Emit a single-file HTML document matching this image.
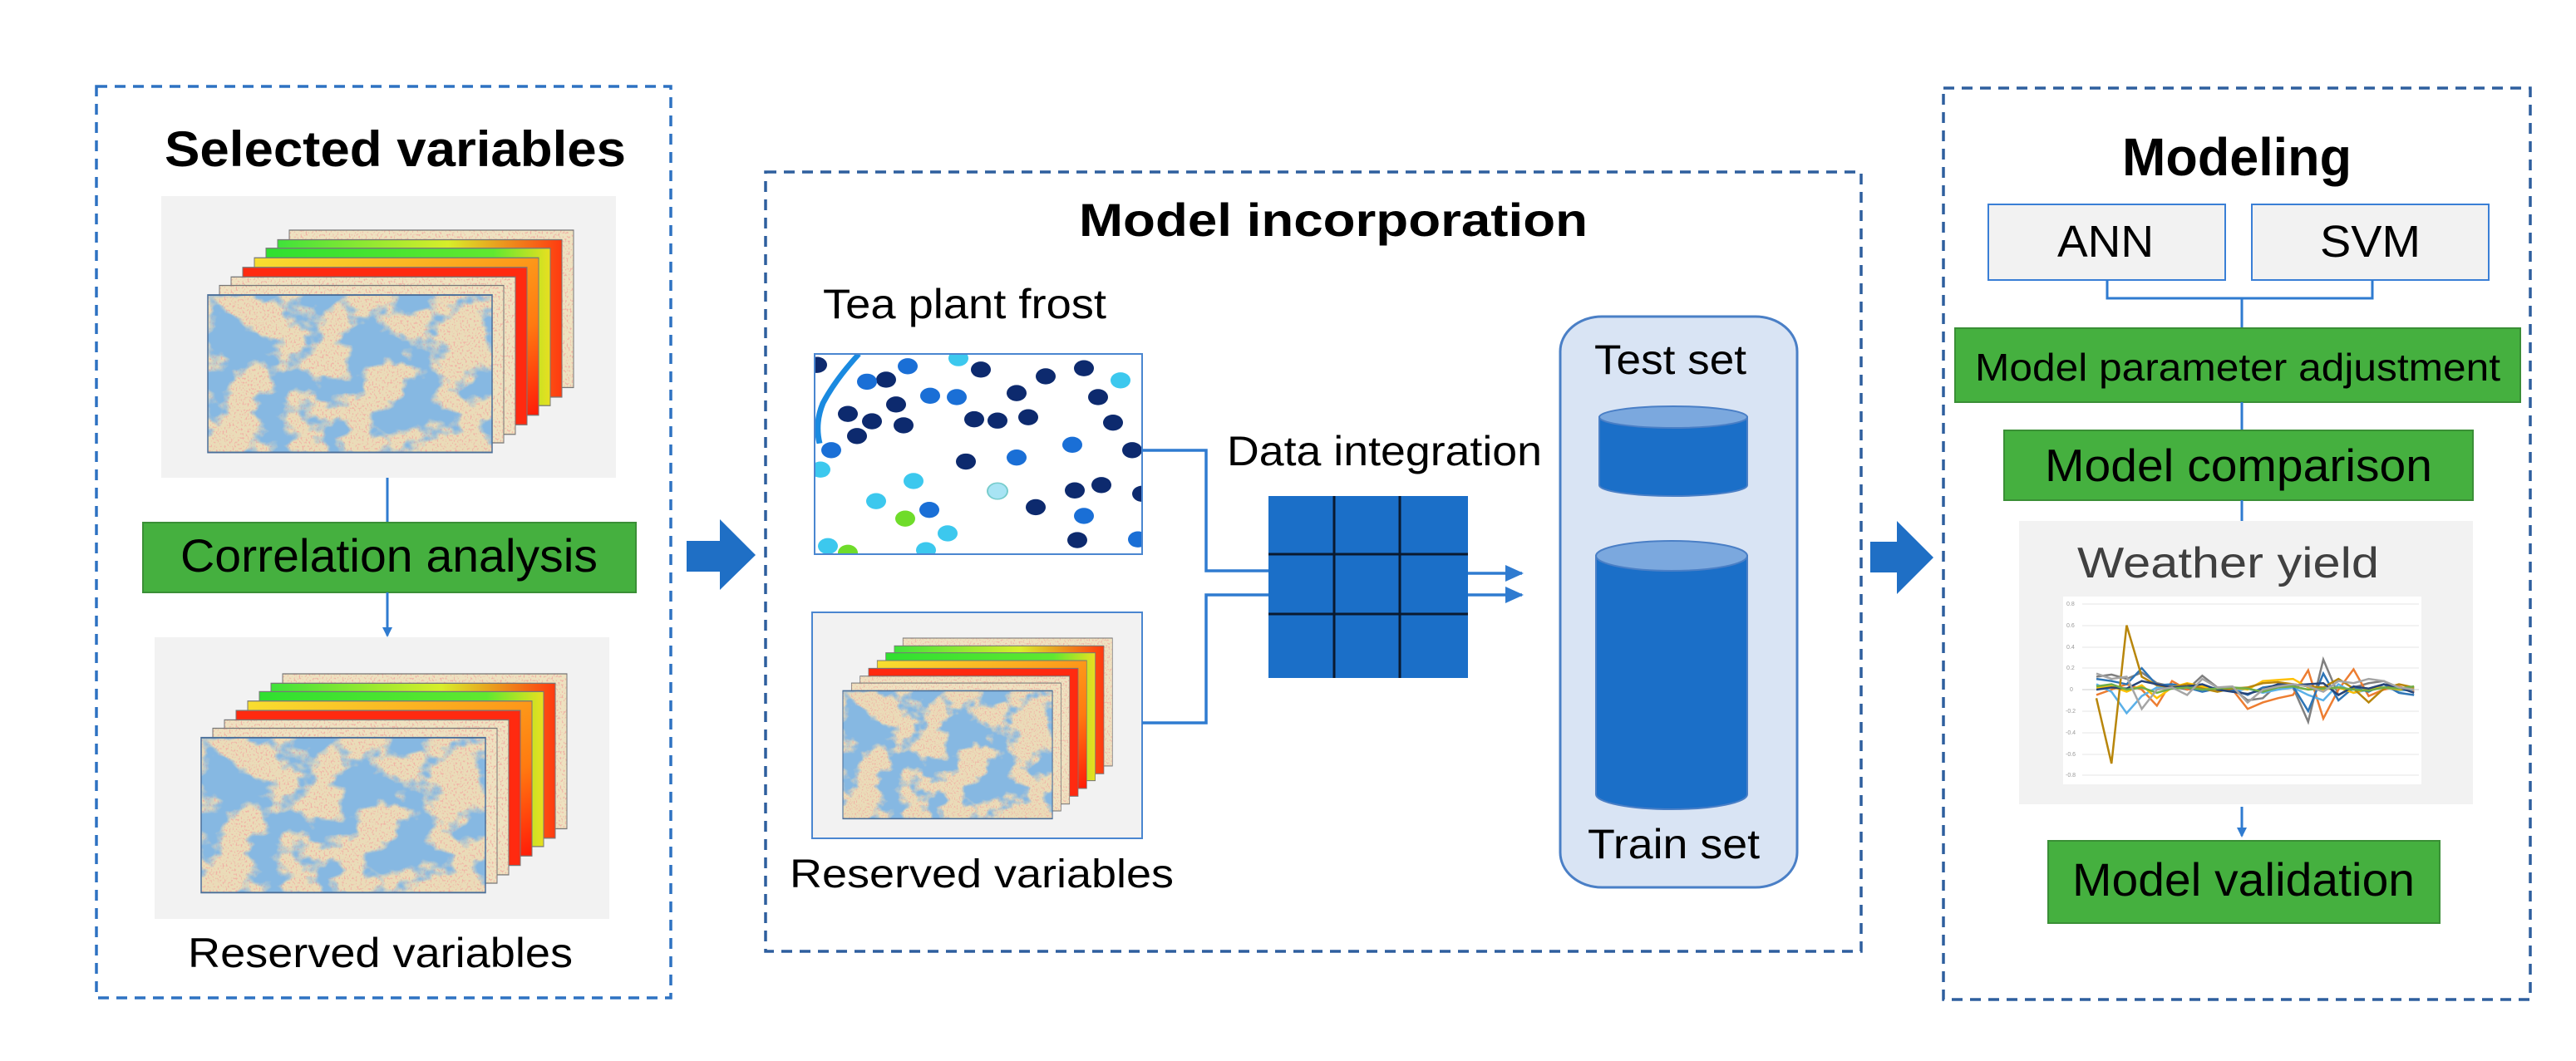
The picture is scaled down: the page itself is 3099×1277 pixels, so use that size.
<!DOCTYPE html>
<html><head><meta charset="utf-8">
<style>
html,body{margin:0;padding:0;background:#fff;overflow:hidden;}
svg{display:block;}
text{font-family:"Liberation Sans",Arial,sans-serif;fill:#000;}
</style></head>
<body>
<svg width="3099" height="1277" viewBox="0 0 3099 1277" xmlns="http://www.w3.org/2000/svg">
<defs>
  <filter id="blobs" x="0" y="0" width="100%" height="100%">
    <feTurbulence type="fractalNoise" baseFrequency="0.018 0.03" numOctaves="4" seed="3"/>
    <feColorMatrix type="matrix" values="0 0 0 0 0.24  0 0 0 0 0.48  0 0 0 0 0.76  9 0 0 0 -4.3"/>
  </filter>
  <filter id="speck" x="0" y="0" width="100%" height="100%">
    <feTurbulence type="fractalNoise" baseFrequency="0.5" numOctaves="1" seed="7"/>
    <feColorMatrix type="matrix" values="0 0 0 0 0.88  0 0 0 0 0.45  0 0 0 0 0.38  6 0 0 0 -3.2"/>
  </filter>
  <linearGradient id="gyr" x1="0" y1="0" x2="1" y2="0">
    <stop offset="0" stop-color="#3fe23a"/><stop offset="0.6" stop-color="#d8ee2a"/><stop offset="1" stop-color="#ff3a10"/>
  </linearGradient>
  <linearGradient id="yr" x1="0" y1="0" x2="1" y2="1">
    <stop offset="0" stop-color="#f8e030"/><stop offset="0.7" stop-color="#ff7a10"/><stop offset="1" stop-color="#ff1a08"/>
  </linearGradient>
  <linearGradient id="gr" x1="0" y1="0" x2="1" y2="0">
    <stop offset="0" stop-color="#30e030"/><stop offset="0.8" stop-color="#60e830"/><stop offset="1" stop-color="#e8e020"/>
  </linearGradient>
  <g id="map">
    <rect x="0" y="0" width="342" height="148" fill="#eadcb8"/>
    <rect x="0" y="0" width="342" height="148" filter="url(#speck)"/>
    <rect x="0" y="0" width="342" height="148" filter="url(#blobs)"/>
    <rect x="0" y="0" width="342" height="148" fill="none" stroke="#4a6f9a" stroke-width="1.5"/>
  </g>
  <g id="beige">
    <rect x="0" y="0" width="342" height="148" fill="#eee2c0"/>
    <rect x="0" y="0" width="342" height="148" filter="url(#speck)"/>
    <rect x="0" y="0" width="342" height="148" fill="none" stroke="#777" stroke-width="1"/>
  </g>
  <g id="stack">
    <use href="#beige" x="98" y="0"/>
    <rect x="84" y="9" width="342" height="148" fill="url(#gyr)" stroke="#777" stroke-width="1"/>
    <rect x="70" y="17" width="342" height="148" fill="url(#gr)" stroke="#777" stroke-width="1"/>
    <rect x="56" y="26" width="342" height="148" fill="url(#yr)" stroke="#777" stroke-width="1"/>
    <rect x="42" y="35" width="342" height="148" fill="#ff2a10" stroke="#777" stroke-width="1"/>
    <use href="#beige" x="28" y="44"/>
    <use href="#beige" x="14" y="52"/>
    <use href="#map" x="0" y="61"/>
  </g>
  <clipPath id="frostclip"><rect x="980" y="426" width="394" height="241"/></clipPath>
  <marker id="ah" markerWidth="12" markerHeight="12" refX="10" refY="6" orient="auto" markerUnits="userSpaceOnUse">
    <path d="M0,0 L12,6 L0,12 z" fill="#2f7bd0"/>
  </marker>
  <marker id="ah2" markerWidth="22" markerHeight="20" refX="20" refY="10" orient="auto" markerUnits="userSpaceOnUse">
    <path d="M0,0 L22,10 L0,20 z" fill="#2f7bd0"/>
  </marker>
</defs>

<rect width="3099" height="1277" fill="#fff"/>

<!-- ============ LEFT PANEL ============ -->
<rect x="116" y="104" width="691" height="1097" fill="none" stroke="#2e72c2" stroke-width="3.5" stroke-dasharray="13 9"/>
<text x="198" y="200" font-size="60" font-weight="bold" textLength="555" lengthAdjust="spacingAndGlyphs">Selected variables</text>

<rect x="194" y="236" width="547" height="339" fill="#f2f2f2"/>
<use href="#stack" transform="translate(250,277) scale(1,1.28)"/>

<line x1="466" y1="575" x2="466" y2="629" stroke="#2f7bd0" stroke-width="3"/>
<rect x="172" y="629" width="593" height="84" fill="#45b03f" stroke="#3a8f36" stroke-width="2"/>
<text x="217" y="688" font-size="56" textLength="502" lengthAdjust="spacingAndGlyphs">Correlation analysis</text>
<line x1="466" y1="713" x2="466" y2="765" stroke="#2f7bd0" stroke-width="3" marker-end="url(#ah)"/>

<rect x="186" y="767" width="547" height="339" fill="#f2f2f2"/>
<use href="#stack" transform="translate(242,811) scale(1,1.26)"/>
<text x="226" y="1164" font-size="50" textLength="463" lengthAdjust="spacingAndGlyphs">Reserved variables</text>

<!-- big arrow 1 -->
<path d="M826,651 L866,651 L866,625 L909,668 L866,710 L866,688 L826,688 z" fill="#1f6fc5"/>

<!-- ============ MIDDLE PANEL ============ -->
<rect x="921" y="207" width="1318" height="938" fill="none" stroke="#2e5f9e" stroke-width="3.5" stroke-dasharray="13 9"/>
<text x="1298" y="284" font-size="56" font-weight="bold" textLength="612" lengthAdjust="spacingAndGlyphs">Model incorporation</text>
<text x="990" y="383" font-size="50" textLength="341" lengthAdjust="spacingAndGlyphs">Tea plant frost</text>

<rect x="980" y="426" width="394" height="241" fill="#fff"/>
<g clip-path="url(#frostclip)">
 <g transform="translate(0,28.83) scale(1,0.8078)">
  <path d="M1033,492 Q1005,530 990,565 Q980,595 986,625" fill="none" stroke="#1a8ae0" stroke-width="7"/>
  <g fill="#0d2a6e">
    <circle cx="983" cy="508" r="12"/><circle cx="1066" cy="530" r="12"/><circle cx="1180" cy="515" r="12"/>
    <circle cx="1258" cy="525" r="12"/><circle cx="1304" cy="513" r="12"/><circle cx="1020" cy="581" r="12"/>
    <circle cx="1049" cy="592" r="12"/><circle cx="1078" cy="567" r="12"/><circle cx="1087" cy="598" r="12"/>
    <circle cx="1172" cy="589" r="12"/><circle cx="1200" cy="591" r="12"/><circle cx="1223" cy="550" r="12"/>
    <circle cx="1237" cy="586" r="12"/><circle cx="1321" cy="556" r="12"/><circle cx="1339" cy="594" r="12"/>
    <circle cx="1031" cy="614" r="12"/><circle cx="1162" cy="652" r="12"/><circle cx="1362" cy="635" r="12"/>
    <circle cx="1293" cy="695" r="12"/><circle cx="1325" cy="687" r="12"/><circle cx="1246" cy="720" r="12"/>
    <circle cx="1296" cy="769" r="12"/><circle cx="1374" cy="700" r="12"/>
  </g>
  <g fill="#1a6fd6">
    <circle cx="1043" cy="533" r="12"/><circle cx="1092" cy="510" r="12"/><circle cx="1119" cy="554" r="12"/>
    <circle cx="1151" cy="556" r="12"/><circle cx="1000" cy="635" r="12"/><circle cx="1290" cy="627" r="12"/>
    <circle cx="1223" cy="646" r="12"/><circle cx="1118" cy="724" r="12"/><circle cx="1304" cy="733" r="12"/>
    <circle cx="1369" cy="768" r="12"/>
  </g>
  <g fill="#3cc8ee">
    <circle cx="1153" cy="498" r="12"/><circle cx="1348" cy="531" r="12"/><circle cx="987" cy="664" r="12"/>
    <circle cx="1099" cy="681" r="12"/><circle cx="1054" cy="711" r="12"/><circle cx="1140" cy="759" r="12"/>
    <circle cx="996" cy="778" r="12"/><circle cx="1114" cy="784" r="12"/>
  </g>
  <circle cx="1200" cy="696" r="12" fill="#a8e4f4" stroke="#7cc" stroke-width="2"/>
  <circle cx="1089" cy="737" r="12" fill="#6fdc2a"/>
  <circle cx="1020" cy="788" r="12" fill="#6fdc2a"/>
 </g>
</g>
<rect x="980" y="426" width="394" height="241" fill="none" stroke="#4a86d0" stroke-width="2"/>

<rect x="977" y="737" width="397" height="272" fill="#f2f2f2" stroke="#4a86d0" stroke-width="2"/>
<use href="#stack" transform="translate(1014,768) scale(0.737,1.04)"/>
<text x="950" y="1068" font-size="48" textLength="462" lengthAdjust="spacingAndGlyphs">Reserved variables</text>

<!-- connectors -->
<polyline points="1374,542 1451,542 1451,687 1526,687" fill="none" stroke="#2f7bd0" stroke-width="3.5"/>
<polyline points="1374,870 1451,870 1451,716 1526,716" fill="none" stroke="#2f7bd0" stroke-width="3.5"/>

<text x="1476" y="560" font-size="50" textLength="379" lengthAdjust="spacingAndGlyphs">Data integration</text>

<!-- grid -->
<rect x="1526" y="597" width="240" height="219" fill="#1b6fc8"/>
<g stroke="#0a1a30" stroke-width="3">
  <line x1="1605" y1="597" x2="1605" y2="816"/><line x1="1684" y1="597" x2="1684" y2="816"/>
  <line x1="1526" y1="667" x2="1766" y2="667"/><line x1="1526" y1="739" x2="1766" y2="739"/>
</g>
<line x1="1766" y1="690" x2="1831" y2="690" stroke="#2f7bd0" stroke-width="3.5" marker-end="url(#ah2)"/>
<line x1="1766" y1="716" x2="1831" y2="716" stroke="#2f7bd0" stroke-width="3.5" marker-end="url(#ah2)"/>

<!-- datasets panel -->
<rect x="1877" y="381" width="285" height="687" rx="50" ry="42" fill="#d9e4f4" stroke="#4a7fc6" stroke-width="3"/>
<text x="1918" y="450" font-size="50" textLength="183" lengthAdjust="spacingAndGlyphs">Test set</text>
<path d="M1924,502 L1924,584 A89,13 0 0 0 2102,584 L2102,502 z" fill="#1b6fc8" stroke="#4a7fc6" stroke-width="2"/>
<ellipse cx="2013" cy="502" rx="89" ry="13" fill="#7ba8de" stroke="#4a7fc6" stroke-width="2"/>
<path d="M1920,669 L1920,956 A91,18 0 0 0 2102,956 L2102,669 z" fill="#1b6fc8" stroke="#4a7fc6" stroke-width="2"/>
<ellipse cx="2011" cy="669" rx="91" ry="18" fill="#7ba8de" stroke="#4a7fc6" stroke-width="2"/>
<text x="1910" y="1033" font-size="50" textLength="207" lengthAdjust="spacingAndGlyphs">Train set</text>

<!-- big arrow 2 -->
<path d="M2250,652 L2282,652 L2282,627 L2326,671 L2282,715 L2282,689 L2250,689 z" fill="#1f6fc5"/>

<!-- ============ RIGHT PANEL ============ -->
<rect x="2338" y="106" width="706" height="1097" fill="none" stroke="#2e5f9e" stroke-width="3.5" stroke-dasharray="13 9"/>
<text x="2553" y="211" font-size="64" font-weight="bold" textLength="276" lengthAdjust="spacingAndGlyphs">Modeling</text>

<rect x="2392" y="246" width="285" height="91" fill="#f2f2f2" stroke="#3a7fd6" stroke-width="2"/>
<text x="2475" y="309" font-size="54" textLength="116" lengthAdjust="spacingAndGlyphs">ANN</text>
<rect x="2709" y="246" width="285" height="91" fill="#f2f2f2" stroke="#3a7fd6" stroke-width="2"/>
<text x="2791" y="309" font-size="54" textLength="121" lengthAdjust="spacingAndGlyphs">SVM</text>
<polyline points="2535,337 2535,359 2854,359 2854,337" fill="none" stroke="#2f7bd0" stroke-width="3"/>
<line x1="2697" y1="359" x2="2697" y2="395" stroke="#2f7bd0" stroke-width="3"/>

<rect x="2352" y="395" width="680" height="89" fill="#45b03f" stroke="#3a8f36" stroke-width="2"/>
<text x="2376" y="458" font-size="46" textLength="632" lengthAdjust="spacingAndGlyphs">Model parameter adjustment</text>
<line x1="2697" y1="484" x2="2697" y2="518" stroke="#2f7bd0" stroke-width="3"/>
<rect x="2411" y="518" width="564" height="84" fill="#45b03f" stroke="#3a8f36" stroke-width="2"/>
<text x="2460" y="579" font-size="55" textLength="466" lengthAdjust="spacingAndGlyphs">Model comparison</text>
<line x1="2697" y1="602" x2="2697" y2="627" stroke="#2f7bd0" stroke-width="3"/>

<rect x="2429" y="627" width="546" height="341" fill="#f2f2f2"/>
<text x="2499" y="695" font-size="52" style="fill:#404040" textLength="363" lengthAdjust="spacingAndGlyphs">Weather  yield</text>
<rect x="2482" y="718" width="431" height="226" fill="#fff"/>
<g stroke="#e6e6e6" stroke-width="1">
  <line x1="2505" y1="727" x2="2910" y2="727"/><line x1="2505" y1="753" x2="2910" y2="753"/>
  <line x1="2505" y1="779" x2="2910" y2="779"/><line x1="2505" y1="804" x2="2910" y2="804"/>
  <line x1="2505" y1="856" x2="2910" y2="856"/><line x1="2505" y1="882" x2="2910" y2="882"/>
  <line x1="2505" y1="908" x2="2910" y2="908"/><line x1="2505" y1="933" x2="2910" y2="933"/>
</g>
<line x1="2505" y1="830" x2="2910" y2="830" stroke="#ccc" stroke-width="1"/>
<g font-size="7">
  <text x="2486" y="729" style="fill:#999">0.8</text><text x="2486" y="755" style="fill:#999">0.6</text>
  <text x="2486" y="781" style="fill:#999">0.4</text><text x="2486" y="806" style="fill:#999">0.2</text>
  <text x="2490" y="832" style="fill:#999">0</text><text x="2485" y="858" style="fill:#999">-0.2</text>
  <text x="2485" y="884" style="fill:#999">-0.4</text><text x="2485" y="910" style="fill:#999">-0.6</text>
  <text x="2485" y="935" style="fill:#999">-0.8</text>
</g>
<g transform="translate(2522,830) scale(18.2,-129)" fill="none">
  <polyline vector-effect="non-scaling-stroke" stroke-width="2.5" stroke="#7f7f7f" points="0,0.12 1,0.14 2,0.1 3,0.16 4,0.06 5,0.03 6,0 7,0.13 8,0.02 9,0.01 10,-0.1 11,-0.08 12,0.05 13,0.02 14,-0.3 15,0.28 16,-0.05 17,0.02 18,0.06 19,0.08 20,0 21,0.02"/>
  <polyline vector-effect="non-scaling-stroke" stroke-width="2.5" stroke="#ed7d31" points="0,-0.05 1,0 2,0.05 3,0 4,-0.15 5,0.08 6,0 7,0.02 8,0.01 9,0 10,-0.18 11,-0.12 12,-0.08 13,-0.05 14,0.18 15,-0.27 16,0 17,0.19 18,-0.06 19,0 20,0.03 21,-0.02"/>
  <polyline vector-effect="non-scaling-stroke" stroke-width="2.5" stroke="#5ab0e8" points="0,0.05 1,-0.02 2,-0.22 3,-0.06 4,0.02 5,0.01 6,0.03 7,0 8,0.02 9,-0.02 10,0.01 11,-0.03 12,0 13,0.02 14,-0.05 15,-0.1 16,0.05 17,-0.03 18,0 19,0.02 20,-0.01 21,0"/>
  <polyline vector-effect="non-scaling-stroke" stroke-width="2.5" stroke="#2e75b6" points="0,0.1 1,0.08 2,0.05 3,0.2 4,0.04 5,0.05 6,0.02 7,-0.02 8,0.01 9,0 10,-0.05 11,0.02 12,0.04 13,0.03 14,-0.2 15,0.15 16,-0.1 17,0.02 18,-0.02 19,0.05 20,-0.03 21,-0.05"/>
  <polyline vector-effect="non-scaling-stroke" stroke-width="2.5" stroke="#ffc000" points="0,0.02 1,0.03 2,-0.02 3,0.04 4,-0.08 5,0.02 6,0.06 7,0.03 8,0 9,0.02 10,0 11,0.08 12,0.09 13,0.1 14,0.02 15,0 16,0.02 17,-0.03 18,0.01 19,0.02 20,0 21,0.01"/>
  <polyline vector-effect="non-scaling-stroke" stroke-width="2.5" stroke="#b8860b" points="0,-0.08 1,-0.69 2,0.6 3,0.12 4,0.04 5,0.02 6,0.05 7,0.01 8,-0.02 9,0.01 10,0.02 11,0.06 12,0.07 13,0.05 14,0.03 15,0.02 16,0.1 17,0.01 18,-0.12 19,0.01 20,0.05 21,0.02"/>
  <polyline vector-effect="non-scaling-stroke" stroke-width="2.5" stroke="#264478" points="0,0 1,0.02 2,0.01 3,0.08 4,0.05 5,0.02 6,0.03 7,0.05 8,0 9,-0.02 10,-0.04 11,0 12,0.05 13,0.04 14,0.05 15,0.06 16,-0.05 17,0.03 18,0.01 19,0.05 20,0.02 21,-0.03"/>
  <polyline vector-effect="non-scaling-stroke" stroke-width="2.5" stroke="#70ad47" points="0,0.03 1,0.05 2,0 3,0.02 4,-0.03 5,0.01 6,0.02 7,0 8,0.01 9,0.02 10,0.01 11,-0.02 12,0.02 13,0.03 14,0 15,0.01 16,0.02 17,0 18,-0.01 19,0.02 20,0.01 21,0.03"/>
  <polyline vector-effect="non-scaling-stroke" stroke-width="2.5" stroke="#a5a5a5" points="0,0.15 1,0.1 2,0.12 3,-0.18 4,0 5,0.02 6,-0.05 7,0.1 8,0.02 9,0.03 10,-0.12 11,0 12,0.03 13,0.05 14,0.03 15,-0.02 16,0.08 17,0.06 18,0.1 19,0.08 20,0.02 21,0"/>
</g>

<line x1="2697" y1="971" x2="2697" y2="1006" stroke="#2f7bd0" stroke-width="3" marker-end="url(#ah)"/>
<rect x="2464" y="1012" width="471" height="99" fill="#45b03f" stroke="#3a8f36" stroke-width="2"/>
<text x="2493" y="1078" font-size="56" textLength="412" lengthAdjust="spacingAndGlyphs">Model validation</text>
</svg>
</body></html>
